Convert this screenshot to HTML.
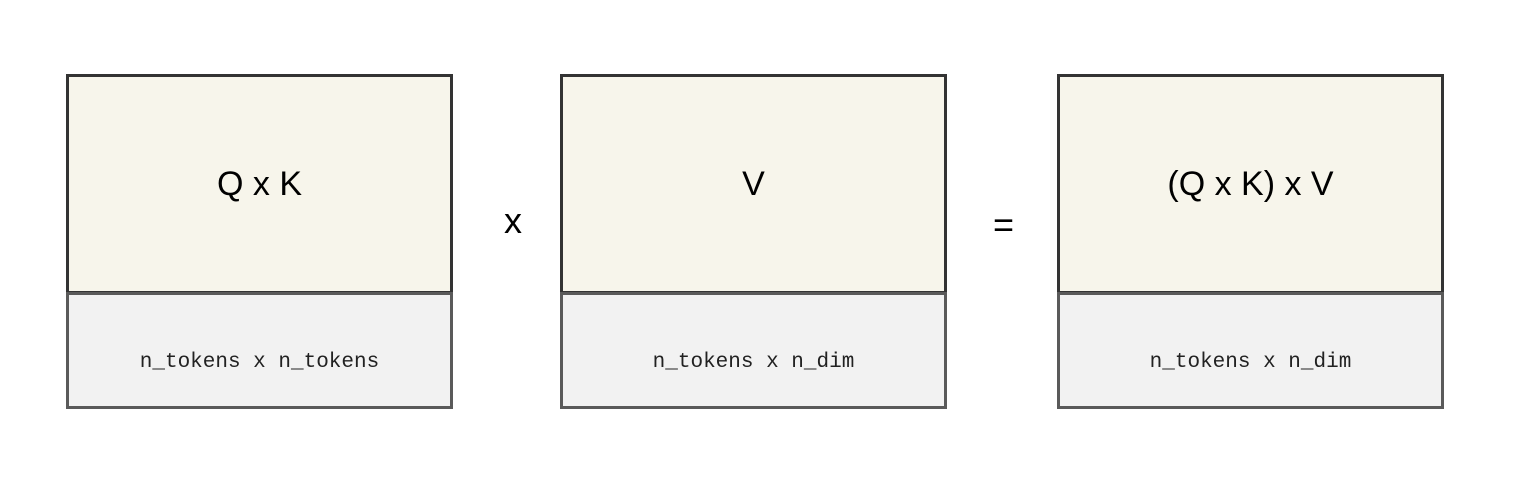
<!DOCTYPE html>
<html><head><style>
body{margin:0;width:1518px;height:486px;background:#fff;position:relative;overflow:hidden}
.t{position:absolute;box-sizing:border-box;width:387px;height:220px;background:#f7f5eb;border:3px solid #333;display:flex;align-items:center;justify-content:center;font:34px "Liberation Sans",sans-serif;color:#000}
.b{position:absolute;box-sizing:border-box;width:387px;height:117px;background:#f2f2f2;border:3px solid #5a5a5a;display:flex;align-items:center;justify-content:center;font:21px "Liberation Mono","DejaVu Sans Mono",monospace;color:#222;padding-top:24px}
.op{position:absolute;font:36px "Liberation Sans",sans-serif;color:#000}
</style></head><body>
<div class="t" style="left:66px;top:74px">Q x K</div>
<div class="b" style="left:66px;top:292px">n_tokens x n_tokens</div>
<div class="op" style="left:504px;top:200px">x</div>
<div class="t" style="left:560px;top:74px">V</div>
<div class="b" style="left:560px;top:292px">n_tokens x n_dim</div>
<div class="op" style="left:993px;top:204px">=</div>
<div class="t" style="left:1057px;top:74px">(Q x K) x V</div>
<div class="b" style="left:1057px;top:292px">n_tokens x n_dim</div>
</body></html>
